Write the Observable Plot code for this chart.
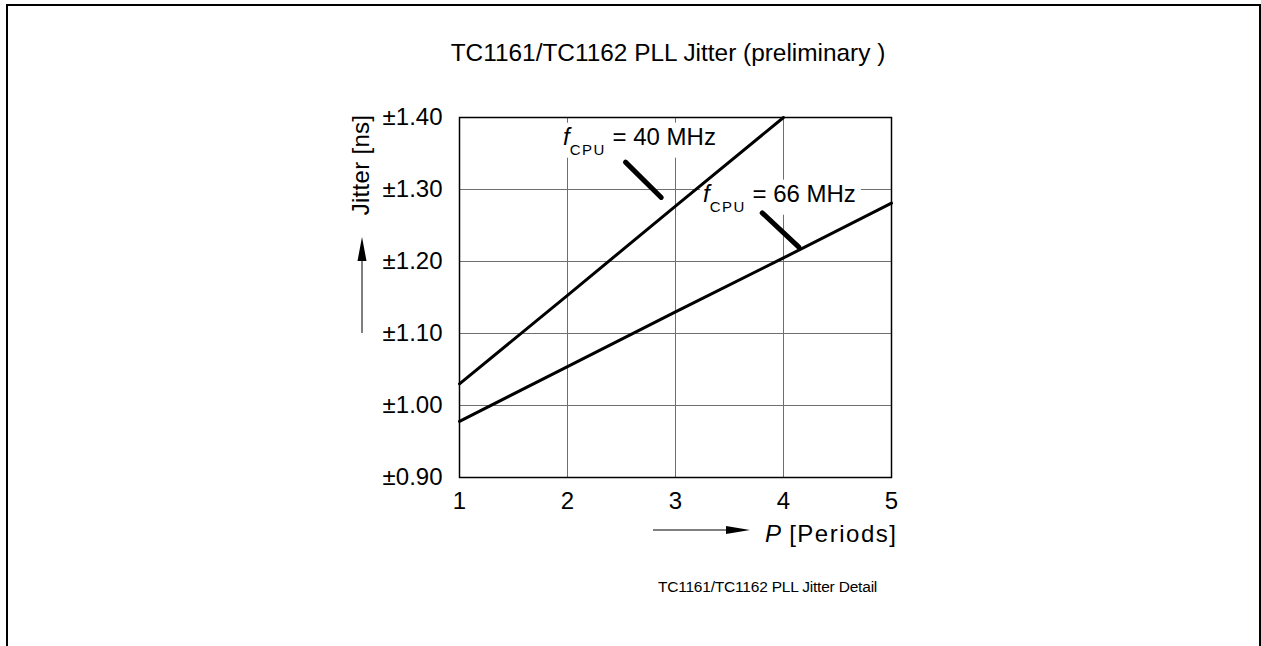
<!DOCTYPE html>
<html><head><meta charset="utf-8">
<script src="https://cdn.jsdelivr.net/npm/d3@7"></script>
<script src="https://cdn.jsdelivr.net/npm/@observablehq/plot@0.6"></script>
<style>
html,body{margin:0;padding:0;background:#fff;}
body{width:1261px;height:646px;position:relative;overflow:hidden;font-family:'Liberation Sans',Arial,sans-serif;color:#000;}
#frame{position:absolute;left:6px;top:4px;width:1255px;height:720px;border:2.5px solid #000;box-sizing:border-box;}
#title{position:absolute;left:668px;top:41px;transform:translateX(-50%);font-size:24.4px;line-height:24.4px;white-space:nowrap;}
#chart{position:absolute;left:0;top:90px;}
#caption{position:absolute;left:767.5px;top:578.6px;transform:translateX(-50%);font-size:15.5px;line-height:15.5px;white-space:nowrap;letter-spacing:-0.2px;}
</style></head>
<body>
<div id="frame"></div>
<div id="title">TC1161/TC1162 PLL Jitter (preliminary )</div>
<div id="chart"></div>
<div id="caption">TC1161/TC1162 PLL Jitter Detail</div>
<script>
// ---- data ----
const periods40 = [1, 2, 3, 4];
const jitter40  = [1.03, 1.153, 1.277, 1.40];
const periods66 = [1, 2, 3, 4, 5];
const jitter66  = [0.978, 1.054, 1.130, 1.205, 1.281];
const seriesNames = ["40 MHz", "66 MHz"];
// annotation label anchors (data units)
const labelP = [1.963, 3.259];
const labelJ = [1.3615, 1.2824];
// leader segments (data units)
const leaderP1 = [2.537, 3.803];
const leaderJ1 = [1.338, 1.2675];
const leaderP2 = [2.868, 4.142];
const leaderJ2 = [1.289, 1.220];
const xTicks = [1, 2, 3, 4, 5];
const yTicks = [0.9, 1.0, 1.1, 1.2, 1.3, 1.4];
const xLabelMain = "P";
const xLabelUnit = " [Periods]";
const yLabel = "Jitter [ns]";

// ---- tables ----
const rows = [
  ...periods40.map((p, i) => ({P: p, J: jitter40[i], series: seriesNames[0]})),
  ...periods66.map((p, i) => ({P: p, J: jitter66[i], series: seriesNames[1]}))
];
const leaders = leaderP1.map((p, i) => ({x1: p, y1: leaderJ1[i], x2: leaderP2[i], y2: leaderJ2[i]}));

const FONT = "'Liberation Sans', Arial, sans-serif";
const gridStyle = {stroke: "#6e6e6e", strokeOpacity: 1, strokeWidth: 1};

const plot = Plot.plot({
  width: 1261, height: 556,
  marginLeft: 459, marginRight: 370, marginTop: 27, marginBottom: 169,
  style: `font-family:${FONT};font-size:24px;background:transparent;overflow:visible;`,
  x: {domain: [1, 5]},
  y: {domain: [0.9, 1.4]},
  marks: [
    Plot.gridX(xTicks, gridStyle),
    Plot.gridY(yTicks, gridStyle),
    Plot.frame({stroke: "#000", strokeWidth: 1.5}),
    Plot.axisX(xTicks, {tickSize: 0, tickPadding: 14, tickFormat: d => String(d), label: null, fontSize: 24}),
    Plot.axisY(yTicks, {tickSize: 0, tickPadding: 17, tickFormat: d => "±" + d.toFixed(2), label: null, fontSize: 24}),
    Plot.line(rows, {x: "P", y: "J", z: "series", stroke: "#000", strokeWidth: 3}),
    Plot.link(leaders, {x1: "x1", y1: "y1", x2: "x2", y2: "y2", stroke: "#000", strokeWidth: 5, strokeLinecap: "round"})
  ]
});
document.getElementById("chart").appendChild(plot);

const svg = d3.select(plot);
const sx = plot.scale("x"), sy = plot.scale("y");
const X = v => sx.apply(v), Y = v => sy.apply(v);

// annotation labels (behind the data lines, hide grid lines)
const lineG = plot.querySelector('g[aria-label="line"]');
const ann = document.createElementNS("http://www.w3.org/2000/svg", "g");
plot.insertBefore(ann, lineG);
const annG = d3.select(ann).attr("text-anchor", "start");
seriesNames.forEach((name, i) => {
  const g = annG.append("g");
  const bg = g.append("rect").attr("fill", "#fff");
  const t = g.append("text")
    .attr("text-anchor", "start")
    .attr("x", X(labelP[i])).attr("y", Y(labelJ[i]))
    .attr("font-size", 24).attr("font-family", FONT);
  t.append("tspan").attr("font-style", "italic").text("f");
  t.append("tspan").attr("font-size", 15).attr("dy", 10).attr("letter-spacing", 1.5).text("CPU");
  t.append("tspan").attr("dy", -10).text(" = " + name);
  const bb = t.node().getBBox();
  bg.attr("x", bb.x - 3).attr("y", bb.y).attr("width", bb.width + 8).attr("height", bb.height);
});

// axis labels with arrows
const deco = svg.append("g").attr("font-family", FONT).attr("font-size", 24).attr("fill", "#000");
deco.append("text")
  .attr("text-anchor", "middle")
  .attr("letter-spacing", 0.3)
  .attr("transform", "translate(369,75) rotate(-90)")
  .text(yLabel);
deco.append("line").attr("x1", 362).attr("x2", 362).attr("y1", 243).attr("y2", 165).attr("stroke", "#000").attr("stroke-width", 1);
deco.append("path").attr("d", "M362,147 L357.5,171 L366.5,171 Z").attr("fill", "#000");
deco.append("line").attr("x1", 653).attr("x2", 730).attr("y1", 440).attr("y2", 440).attr("stroke", "#000").attr("stroke-width", 1);
deco.append("path").attr("d", "M750,440 L726,436 L726,444 Z").attr("fill", "#000");
const xl = deco.append("text").attr("text-anchor", "start").attr("x", 765).attr("y", 451.7);
xl.append("tspan").attr("font-style", "italic").text(xLabelMain);
xl.append("tspan").attr("letter-spacing", 1.5).text(xLabelUnit);
</script>
</body></html>
